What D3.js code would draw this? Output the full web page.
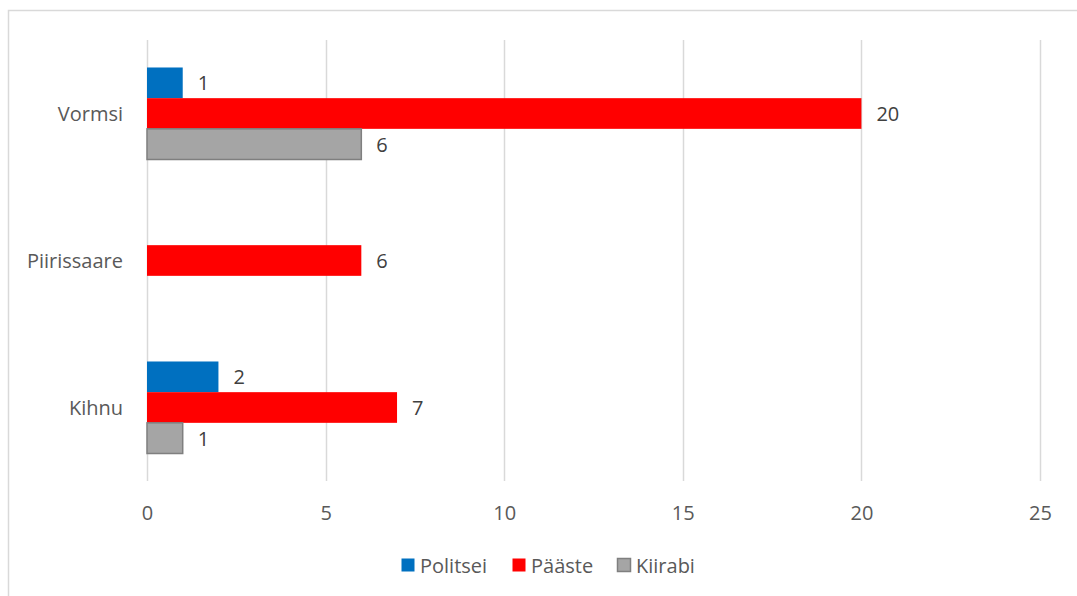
<!DOCTYPE html>
<html>
<head>
<meta charset="utf-8">
<script src="https://cdn.jsdelivr.net/npm/d3@7"></script>
<style>
  html, body { margin: 0; padding: 0; background: #fff; }
  svg { display: block; font-family: "Open Sans", "Noto Sans", sans-serif; }
</style>
</head>
<body>
<svg id="chart" width="1077" height="596"></svg>
<script>
// Calls per island, by service
const islands = ["Vormsi", "Piirissaare", "Kihnu"];
const services = ["Politsei", "Pääste", "Kiirabi"];
const politsei = [1, null, 2];
const paaste = [20, 6, 7];
const kiirabi = [6, null, 1];
const xTicks = [0, 5, 10, 15, 20, 25];

const colors = { "Politsei": "#0070C0", "Pääste": "#FF0000", "Kiirabi": "#A5A5A5" };
const strokes = { "Politsei": "none", "Pääste": "none", "Kiirabi": "#7F7F7F" };
const seriesValues = { "Politsei": politsei, "Pääste": paaste, "Kiirabi": kiirabi };

const svg = d3.select("#chart");

// outer chart frame
svg.append("rect")
  .attr("x", 8.5).attr("y", 10.5)
  .attr("width", 1100).attr("height", 620)
  .attr("fill", "none").attr("stroke", "#D9D9D9").attr("stroke-width", 1.5);

const plot = { left: 147, right: 1040, top: 40, bottom: 481 };

const x = d3.scaleLinear().domain([0, 25]).range([plot.left, plot.right]);
const y = d3.scaleBand().domain(islands).range([plot.top, plot.bottom])
  .paddingInner(0.374).paddingOuter(0.187);
const ySub = d3.scaleBand().domain(services).range([0, y.bandwidth()]);

// vertical gridlines
svg.append("g").selectAll("line").data(xTicks).join("line")
  .attr("x1", d => Math.round(x(d)) + 0.5).attr("x2", d => Math.round(x(d)) + 0.5)
  .attr("y1", plot.top).attr("y2", plot.bottom)
  .attr("stroke", "#D9D9D9").attr("stroke-width", 1.5);

// x axis labels
const xAxis = d3.axisBottom(x).tickValues(xTicks).tickSize(0).tickPadding(0);
const gx = svg.append("g").attr("transform", `translate(0,${plot.bottom})`).call(xAxis);
gx.select(".domain").remove();
gx.selectAll("text")
  .attr("dy", null).attr("y", 31)
  .attr("dominant-baseline", "central")
  .attr("font-size", 20).attr("fill", "#595959")
  .attr("font-family", "'Open Sans', sans-serif");

// category labels
const yAxis = d3.axisLeft(y).tickSize(0).tickPadding(0);
const gy = svg.append("g").attr("transform", `translate(123,0)`).call(yAxis);
gy.select(".domain").remove();
gy.selectAll("text")
  .attr("dy", null).attr("x", 0)
  .attr("dominant-baseline", "central")
  .attr("font-size", 20).attr("fill", "#595959")
  .attr("font-family", "'Open Sans', sans-serif");

// bars
const rows = [];
islands.forEach((isl, i) => {
  services.forEach(s => {
    const v = seriesValues[s][i];
    if (v != null) rows.push({ island: isl, service: s, value: v });
  });
});

const bars = svg.append("g");
bars.selectAll("rect").data(rows).join("rect")
  .attr("x", x(0))
  .attr("y", d => y(d.island) + ySub(d.service))
  .attr("width", d => x(d.value) - x(0))
  .attr("height", ySub.bandwidth())
  .attr("fill", d => colors[d.service])
  .attr("stroke", d => strokes[d.service])
  .attr("stroke-width", 1.5);

// value labels
svg.append("g").selectAll("text").data(rows).join("text")
  .attr("x", d => x(d.value) + 15)
  .attr("y", d => y(d.island) + ySub(d.service) + ySub.bandwidth() / 2)
  .attr("dominant-baseline", "central")
  .attr("font-size", 20).attr("fill", "#404040")
  .text(d => d.value);

// legend
const legendItems = [
  { name: "Politsei", x: 401 },
  { name: "Pääste", x: 512 },
  { name: "Kiirabi", x: 617 }
];
const lg = svg.append("g").selectAll("g").data(legendItems).join("g")
  .attr("transform", d => `translate(${d.x},565)`);
lg.append("rect")
  .attr("x", 0.5).attr("y", -6.5).attr("width", 13).attr("height", 13)
  .attr("fill", d => colors[d.name])
  .attr("stroke", d => strokes[d.name]).attr("stroke-width", 1.5);
lg.append("text")
  .attr("x", 19).attr("y", 0)
  .attr("dominant-baseline", "central")
  .attr("font-size", 20).attr("fill", "#595959")
  .text(d => d.name);
</script>
</body>
</html>
